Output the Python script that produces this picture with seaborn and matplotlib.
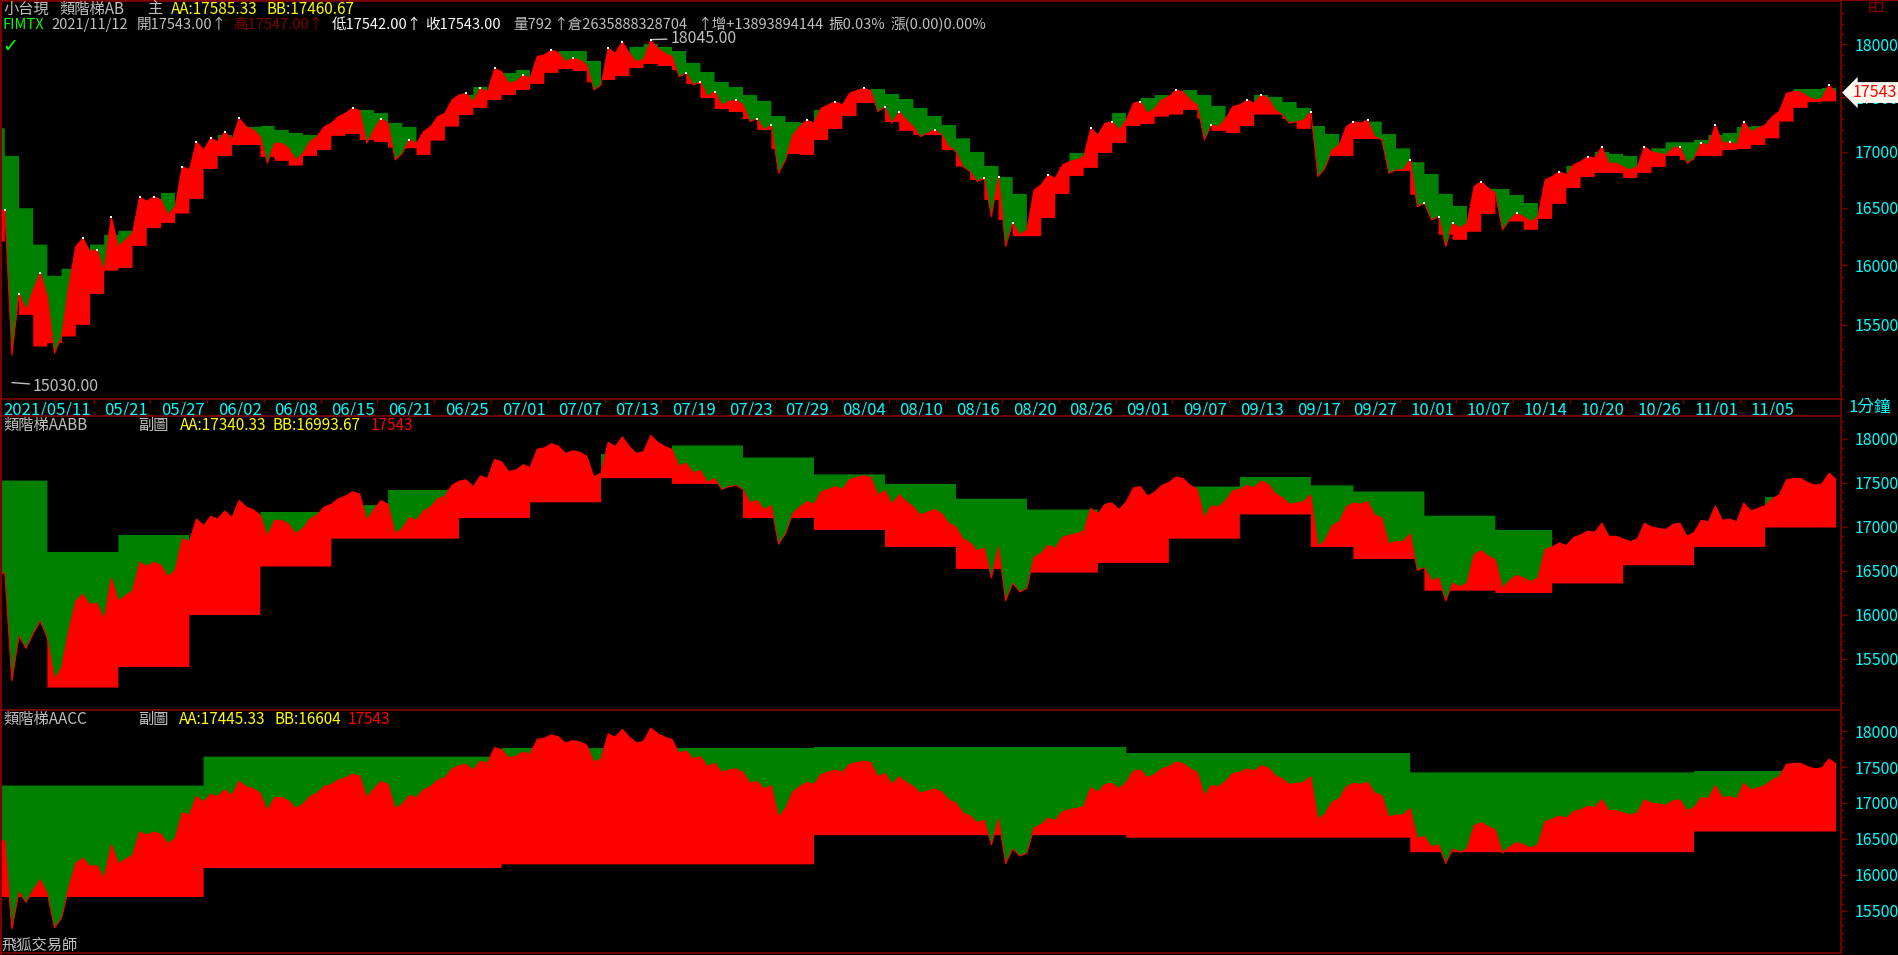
import numpy as np
import pandas as pd
import matplotlib
matplotlib.use("Agg")
import matplotlib.pyplot as plt
import seaborn as sns
from matplotlib.ticker import FixedLocator, FuncFormatter, NullFormatter
from matplotlib.transforms import blended_transform_factory
from matplotlib.patches import Rectangle
from matplotlib.lines import Line2D

# ==========================================================
# Data (per trading day)
# ==========================================================

holidays = ["2021-06-14", "2021-09-20", "2021-09-21", "2021-10-11"]

date_labels = ["2021/05/11", "05/21", "05/27", "06/02", "06/08", "06/15", "06/21",
               "06/25", "07/01", "07/07", "07/13", "07/19", "07/23", "07/29",
               "08/04", "08/10", "08/16", "08/20", "08/26", "09/01", "09/07",
               "09/13", "09/17", "09/27", "10/01", "10/07", "10/14", "10/20",
               "10/26", "11/01", "11/05"]

open_first = 16560

# intraday swing (the extreme reached mid-session)
swing = [16450, 15250, 15620, 15932, 15267, 15818, 16233, 16131, 16420, 16218,
         16597, 16597, 16435, 16864, 17090, 17120, 17182, 17304, 17197, 16894,
         17075, 16924, 17090, 17227, 17319, 17400, 17075, 17300, 16924, 17105,
         17182, 17319, 17474, 17536, 17582, 17770, 17630, 17708, 17883, 17946,
         17834, 17850, 17567, 17962, 18025, 17834, 18041, 17914, 17692, 17614,
         17505, 17427, 17474, 17273, 17197, 16804, 17151, 17288, 17397, 17458,
         17536, 17582, 17366, 17258, 17288, 17136, 17197, 17044, 16864, 16730,
         16420, 16160, 16262, 16655, 16789, 16879, 16924, 17212, 17258, 17197,
         17443, 17350, 17474, 17567, 17474, 17105, 17227, 17412, 17474, 17520,
         17381, 17258, 17288, 16774, 17014, 17227, 17258, 17136, 16804, 16834,
         16508, 16391, 16160, 16319, 16685, 16670, 16305, 16450, 16377, 16744,
         16819, 16879, 16954, 17044, 16894, 16834, 17044, 16984, 17029, 16894,
         17075, 17242, 17090, 17273, 17212, 17319, 17536, 17551, 17474, 17610]

# session close
close = [16480, 15760, 15790, 15735, 15400, 16160, 16120, 15950, 16160, 16276,
         16553, 16567, 16508, 16834, 17014, 17090, 17105, 17227, 17136, 17075,
         17030, 16984, 17136, 17258, 17350, 17375, 17197, 17258, 16984, 17075,
         17227, 17350, 17520, 17458, 17551, 17740, 17645, 17677, 17898, 17920,
         17866, 17803, 17614, 17914, 17914, 17857, 17962, 17882, 17724, 17645,
         17551, 17458, 17427, 17300, 17242, 16924, 17227, 17258, 17427, 17427,
         17561, 17561, 17412, 17366, 17227, 17166, 17151, 16999, 16819, 16759,
         16774, 16362, 16304, 16700, 16759, 16909, 16954, 17151, 17273, 17288,
         17458, 17397, 17505, 17551, 17427, 17242, 17300, 17427, 17443, 17489,
         17334, 17273, 17366, 16849, 17059, 17273, 17288, 17105, 16834, 16924,
         16537, 16420, 16362, 16362, 16730, 16626, 16391, 16420, 16420, 16774,
         16789, 16909, 16939, 16894, 16864, 16864, 16999, 16969, 17044, 16939,
         17059, 17075, 17059, 17182, 17242, 17366, 17551, 17505, 17489, 17543]

nan = np.nan

# daily ladder (主圖 AB)
aa_day = [17212, 16960, 16494, 16177, 15910, 15970, nan, 16177, 16262, 16296,
          nan, nan, 16629, nan, nan, nan, 17151, nan, 17224, 17233,
          17197, 17169, 17151, nan, nan, nan, 17381, 17353, 17261, 17224,
          nan, nan, nan, 17520, 17595, nan, 17727, 17755, nan, nan,
          17936, 17936, 17841, nan, nan, 17975, 18003, 17975, 17936, 17822,
          17736, 17642, 17595, 17520, 17465, 17325, 17270, 17261, 17381, nan,
          nan, nan, 17576, 17530, 17483, 17400, 17325, 17242, 17120, 16996,
          16870, 16771, 16620, nan, nan, nan, 16987, nan, nan, 17353,
          nan, 17492, 17520, nan, 17567, 17520, 17418, nan, nan, 17520,
          17502, 17455, 17400, 17233, 17160, nan, nan, 17273, 17160, 17029,
          16903, 16798, 16620, 16514, nan, 16664, 16664, 16611, 16540, nan,
          nan, 16870, nan, 16996, 16978, 16960, nan, 17029, 17084, 17084,
          17105, 17151, 17169, 17224, 17233, nan, nan, 17576, 17576, 17585.33]

bb_day = [16204, nan, 15582, 15322, 15349, 15404, 15500, 15757, 15954, 15976,
          16166, 16320, 16365, 16447, 16576, 16843, 16960, 17059, 17059, 16951,
          16915, 16873, 16960, 17014, 17142, 17160, 17105, 17087, 17035, 17029,
          16969, 17099, 17227, 17334, 17400, 17474, 17520, 17567, 17623, 17727,
          17764, 17746, 17639, 17661, 17698, 17774, 17812, 17793, 17755, 17623,
          17492, 17390, 17362, 17297, 17197, 17023, 16978, 16969, 17105, 17206,
          17325, 17446, 17446, 17270, 17188, 17151, 17151, 17014, 16864, 16744,
          16567, 16391, 16250, 16250, 16408, 16620, 16780, 16852, 16987, 17078,
          17233, 17252, 17319, 17338, 17381, 17300, 17188, 17169, 17233, 17338,
          17338, 17300, 17206, nan, 16960, 16960, 17114, 17114, nan, 16825,
          16612, nan, 16262, 16218, 16288, 16444, nan, 16377, 16305, 16400,
          16532, 16673, 16771, 16807, 16807, 16762, 16807, 16861, 16960, 16924,
          16960, 16960, 17014, 17023, 17059, 17120, 17273, 17400, 17455, 17460.67]

# weekly ladder (副圖 AABB)
aa_week = [17527, 16716, 16909, nan, 17170, 17250, 17420, nan, nan, 17830,
           17926, 17789, 17597, 17489, 17321, 17198, nan, 17459, 17568, 17473,
           17403, 17128, 16966, nan, nan, nan, 17340.33]
bb_week = [nan, 15175, 15409, 16000, 16551, 16867, 16867, 17102, 17280, 17555,
           17489, 17102, 16966, 16773, 16523, 16482, 16591, 16867, 17142, 16773,
           16636, 16276, 16250, 16358, 16565, 16773, 16993.67]

# monthly ladder (副圖 AACC)
aa_month = [17242, 17644, 17764, 17778, 17694, 17426, 17445.33]
bb_month = [15694, 16097, 16148, 16553, 16518, 16317, 16604]

peak_idx, peak_val = 46, 18045.00
low_idx, low_val = 1, 15030.00

# ==========================================================
# Colours / layout
# ==========================================================

GREEN = "#008000"
RED = "#FF0000"
DRED = "#800000"
GREY = "#C0C0C0"
YELLOW = "#FFFF00"
CYAN = "#00FFFF"
LIME = "#00FF00"
WHITE = "#FFFFFF"

W, H = 1898, 955
PX_DAY = 14.196
x_left = 1 - 3.8 / PX_DAY
x_right = x_left + 1840 / PX_DAY

sns.set_style("dark", {"axes.facecolor": "black", "figure.facecolor": "black"})
plt.rcParams["font.family"] = ["Noto Sans CJK TC", "DejaVu Sans"]

fig = plt.figure(figsize=(W / 100, H / 100), dpi=100, facecolor="black")


def frame(x0, y0, x1, y1):
    return [x0 / W, 1 - y1 / H, (x1 - x0) / W, (y1 - y0) / H]


def px_text(x, y, s, color, size=11, **kw):
    fig.text(x / W, 1 - y / H, s, color=color, fontsize=size,
             ha="left", va="center", **kw)


# ==========================================================
# Calendar -> day index, weeks, months
# ==========================================================

dates = pd.bdate_range("2021-05-11", "2021-11-12").drop(pd.to_datetime(holidays))
day_idx = np.arange(len(dates)).astype(float)
week_no = pd.factorize(dates.to_period("W"))[0]
month_no = pd.factorize(dates.to_period("M"))[0]

close = np.asarray(close, dtype=float)
swing = np.asarray(swing, dtype=float)
prev_close = np.r_[open_first, close[:-1]]

# three points per session: open, mid-session swing, close
xs = np.column_stack([day_idx, day_idx + 0.5, day_idx + 1]).ravel()
pr = np.column_stack([prev_close, swing, close]).ravel()
line_df = pd.DataFrame({
    "x": np.r_[0, np.column_stack([day_idx + 0.5, day_idx + 1]).ravel()],
    "price": np.r_[open_first, np.column_stack([swing, close]).ravel()],
})

# local tops of the path get the small white high marks
yv = line_df["price"].to_numpy()
is_top = np.r_[False, (yv[1:-1] > yv[:-2]) & (yv[1:-1] > yv[2:]), False]
tops_df = line_df[is_top]


def ladder(ax, aa, bb):
    aa = np.repeat(np.asarray(aa, dtype=float), 3)
    bb = np.repeat(np.asarray(bb, dtype=float), 3)
    ax.fill_between(xs, pr, aa, where=aa > pr, interpolate=True,
                    color=GREEN, lw=0)
    ax.fill_between(xs, bb, pr, where=pr > bb, interpolate=True,
                    color=RED, lw=0)
    sns.lineplot(data=line_df, x="x", y="price", ax=ax, color=RED, lw=0.8,
                 estimator=None, sort=False, legend=False)


def style_axis(ax, lo, hi, log=False):
    ax.set_facecolor("black")
    ax.grid(False)
    if log:
        ax.set_yscale("log")
    ax.set_ylim(lo, hi)
    ax.set_xlim(x_left, x_right)
    ax.set_xlabel("")
    ax.set_ylabel("")
    for sp in ax.spines.values():
        sp.set_color(DRED)
        sp.set_linewidth(1.2)
        sp.set_visible(True)
    ax.yaxis.set_major_locator(FixedLocator(np.arange(15500, 18001, 500)))
    ax.yaxis.set_minor_locator(FixedLocator(np.arange(14900, 18400, 100)))
    ax.yaxis.set_major_formatter(FuncFormatter(lambda v, _: f"{v:.0f}"))
    ax.yaxis.set_minor_formatter(NullFormatter())
    ax.yaxis.tick_right()
    ax.tick_params(axis="y", which="major", right=True, left=False,
                   labelright=True, labelleft=False, length=4, width=1,
                   color=DRED, labelcolor=CYAN, labelsize=11.5, pad=6)
    ax.tick_params(axis="y", which="minor", right=True, left=False,
                   length=2, width=1, color=DRED)


ax1 = fig.add_axes(frame(1, 1, 1841, 399))
ax2 = fig.add_axes(frame(1, 416, 1841, 710))
ax3 = fig.add_axes(frame(1, 710, 1841, 953))

# ==========================================================
# Panel 1: daily ladder
# ==========================================================

ladder(ax1, aa_day, bb_day)
sns.scatterplot(data=tops_df, x="x", y="price", ax=ax1, color=WHITE, s=3,
                linewidth=0, marker="s", legend=False, zorder=5)
style_axis(ax1, 14899, 18420, log=True)

label_dates = [pd.Timestamp(s if s.count("/") == 2 else "2021/" + s) for s in date_labels]
label_pos = dates.get_indexer(label_dates).astype(float)
label_pos[0] = x_left + 0.15
ax1.set_xticks(label_pos)
ax1.set_xticklabels(date_labels)
for lab in ax1.get_xticklabels():
    lab.set_ha("left")
ax1.xaxis.set_minor_locator(FixedLocator(label_pos[1:] - 0.75))
ax1.tick_params(axis="x", which="major", length=0, pad=1.5,
                labelcolor=CYAN, labelsize=12)
ax1.tick_params(axis="x", which="minor", bottom=True, length=3, width=1,
                color=DRED, direction="out")

ax1.annotate(f"{peak_val:.2f}", xy=(peak_idx + 0.5, peak_val), xytext=(14, 1),
             textcoords="offset points", color=GREY, fontsize=11.5,
             ha="left", va="center",
             arrowprops=dict(arrowstyle="-", color=GREY, lw=1,
                             shrinkA=0, shrinkB=0))
ax1.annotate(f"{low_val:.2f}", xy=(low_idx + 0.5, low_val), xytext=(15, -3),
             textcoords="offset points", color=GREY, fontsize=11.5,
             ha="left", va="center", annotation_clip=False,
             arrowprops=dict(arrowstyle="-", color=GREY, lw=1,
                             shrinkA=0, shrinkB=0))

# last price flag on the right scale
flag_tr = blended_transform_factory(fig.transFigure, ax1.transData)
ax1.text(1853 / W, close[-1], f"{close[-1]:.0f}", transform=flag_tr,
         color=RED, fontsize=11.5, ha="left", va="center", zorder=10,
         clip_on=False,
         bbox=dict(boxstyle="larrow,pad=0.12", fc="#FFFBF0", ec="none"))

# ==========================================================
# Panel 2 / 3: weekly and monthly ladders
# ==========================================================

ladder(ax2, np.asarray(aa_week)[week_no], np.asarray(bb_week)[week_no])
style_axis(ax2, 14920, 18261)
ax2.tick_params(axis="x", which="both", bottom=False, labelbottom=False)

ladder(ax3, np.asarray(aa_month)[month_no], np.asarray(bb_month)[month_no])
style_axis(ax3, 14916, 18292)
ax3.tick_params(axis="x", which="both", bottom=False, labelbottom=False)

# ==========================================================
# Header texts
# ==========================================================

px_text(3, 9, "小台現", GREY)
px_text(59, 9, "類階梯AB", GREY)
px_text(147, 9, "主", GREY)
px_text(171, 9, "AA:17585.33", YELLOW)
px_text(267, 9, "BB:17460.67", YELLOW)

quote_parts = [(3, "FIMTX", LIME), (51, "2021/11/12", GREY),
               (137, "開17543.00↑", GREY), (233, "高17547.00↑", DRED),
               (332, "低17542.00↑", WHITE), (425, "收17543.00", WHITE),
               (513, "量792", GREY), (553, "↑倉2635888328704", GREY),
               (697, "↑增+13893894144", GREY), (828, "振0.03%", GREY),
               (890, "漲(0.00)0.00%", GREY)]
for x, s, c in quote_parts:
    px_text(x, 25, s, c, size=10.5)

px_text(2, 46, "✓", LIME, size=14, family="DejaVu Sans", weight="bold")

px_text(3, 425, "類階梯AABB", GREY)
px_text(138, 425, "副圖", GREY)
px_text(180, 425, "AA:17340.33", YELLOW)
px_text(273, 425, "BB:16993.67", YELLOW)
px_text(371, 425, "17543", RED)

px_text(3, 719, "類階梯AACC", GREY)
px_text(138, 719, "副圖", GREY)
px_text(179, 719, "AA:17445.33", YELLOW)
px_text(275, 719, "BB:16604", YELLOW)
px_text(348, 719, "17543", RED)

px_text(2, 945, "飛狐交易師", GREY)
px_text(1849, 407, "1分鐘", CYAN, size=12)

# frame lines and small window icon
fig.add_artist(Line2D([0, 1], [1 - 0.5 / H] * 2, color=DRED, lw=1.5))
fig.add_artist(Line2D([0.5 / W] * 2, [0, 1], color=DRED, lw=1.5))
fig.add_artist(Line2D([1841 / W] * 2, [1 - 416 / H, 1 - 399 / H], color=DRED, lw=1.2))
fig.add_artist(Rectangle((1869 / W, 1 - 11 / H), 13 / W, 9 / H, fill=False,
                         ec=DRED, lw=1))
fig.add_artist(Line2D([1875 / W] * 2, [1 - 11 / H, 1 - 2 / H], color=DRED, lw=1))
fig.add_artist(Line2D([1869 / W, 1875 / W], [1 - 7 / H] * 2, color=DRED, lw=1))

fig.savefig("out.png", dpi=100, facecolor="black")
